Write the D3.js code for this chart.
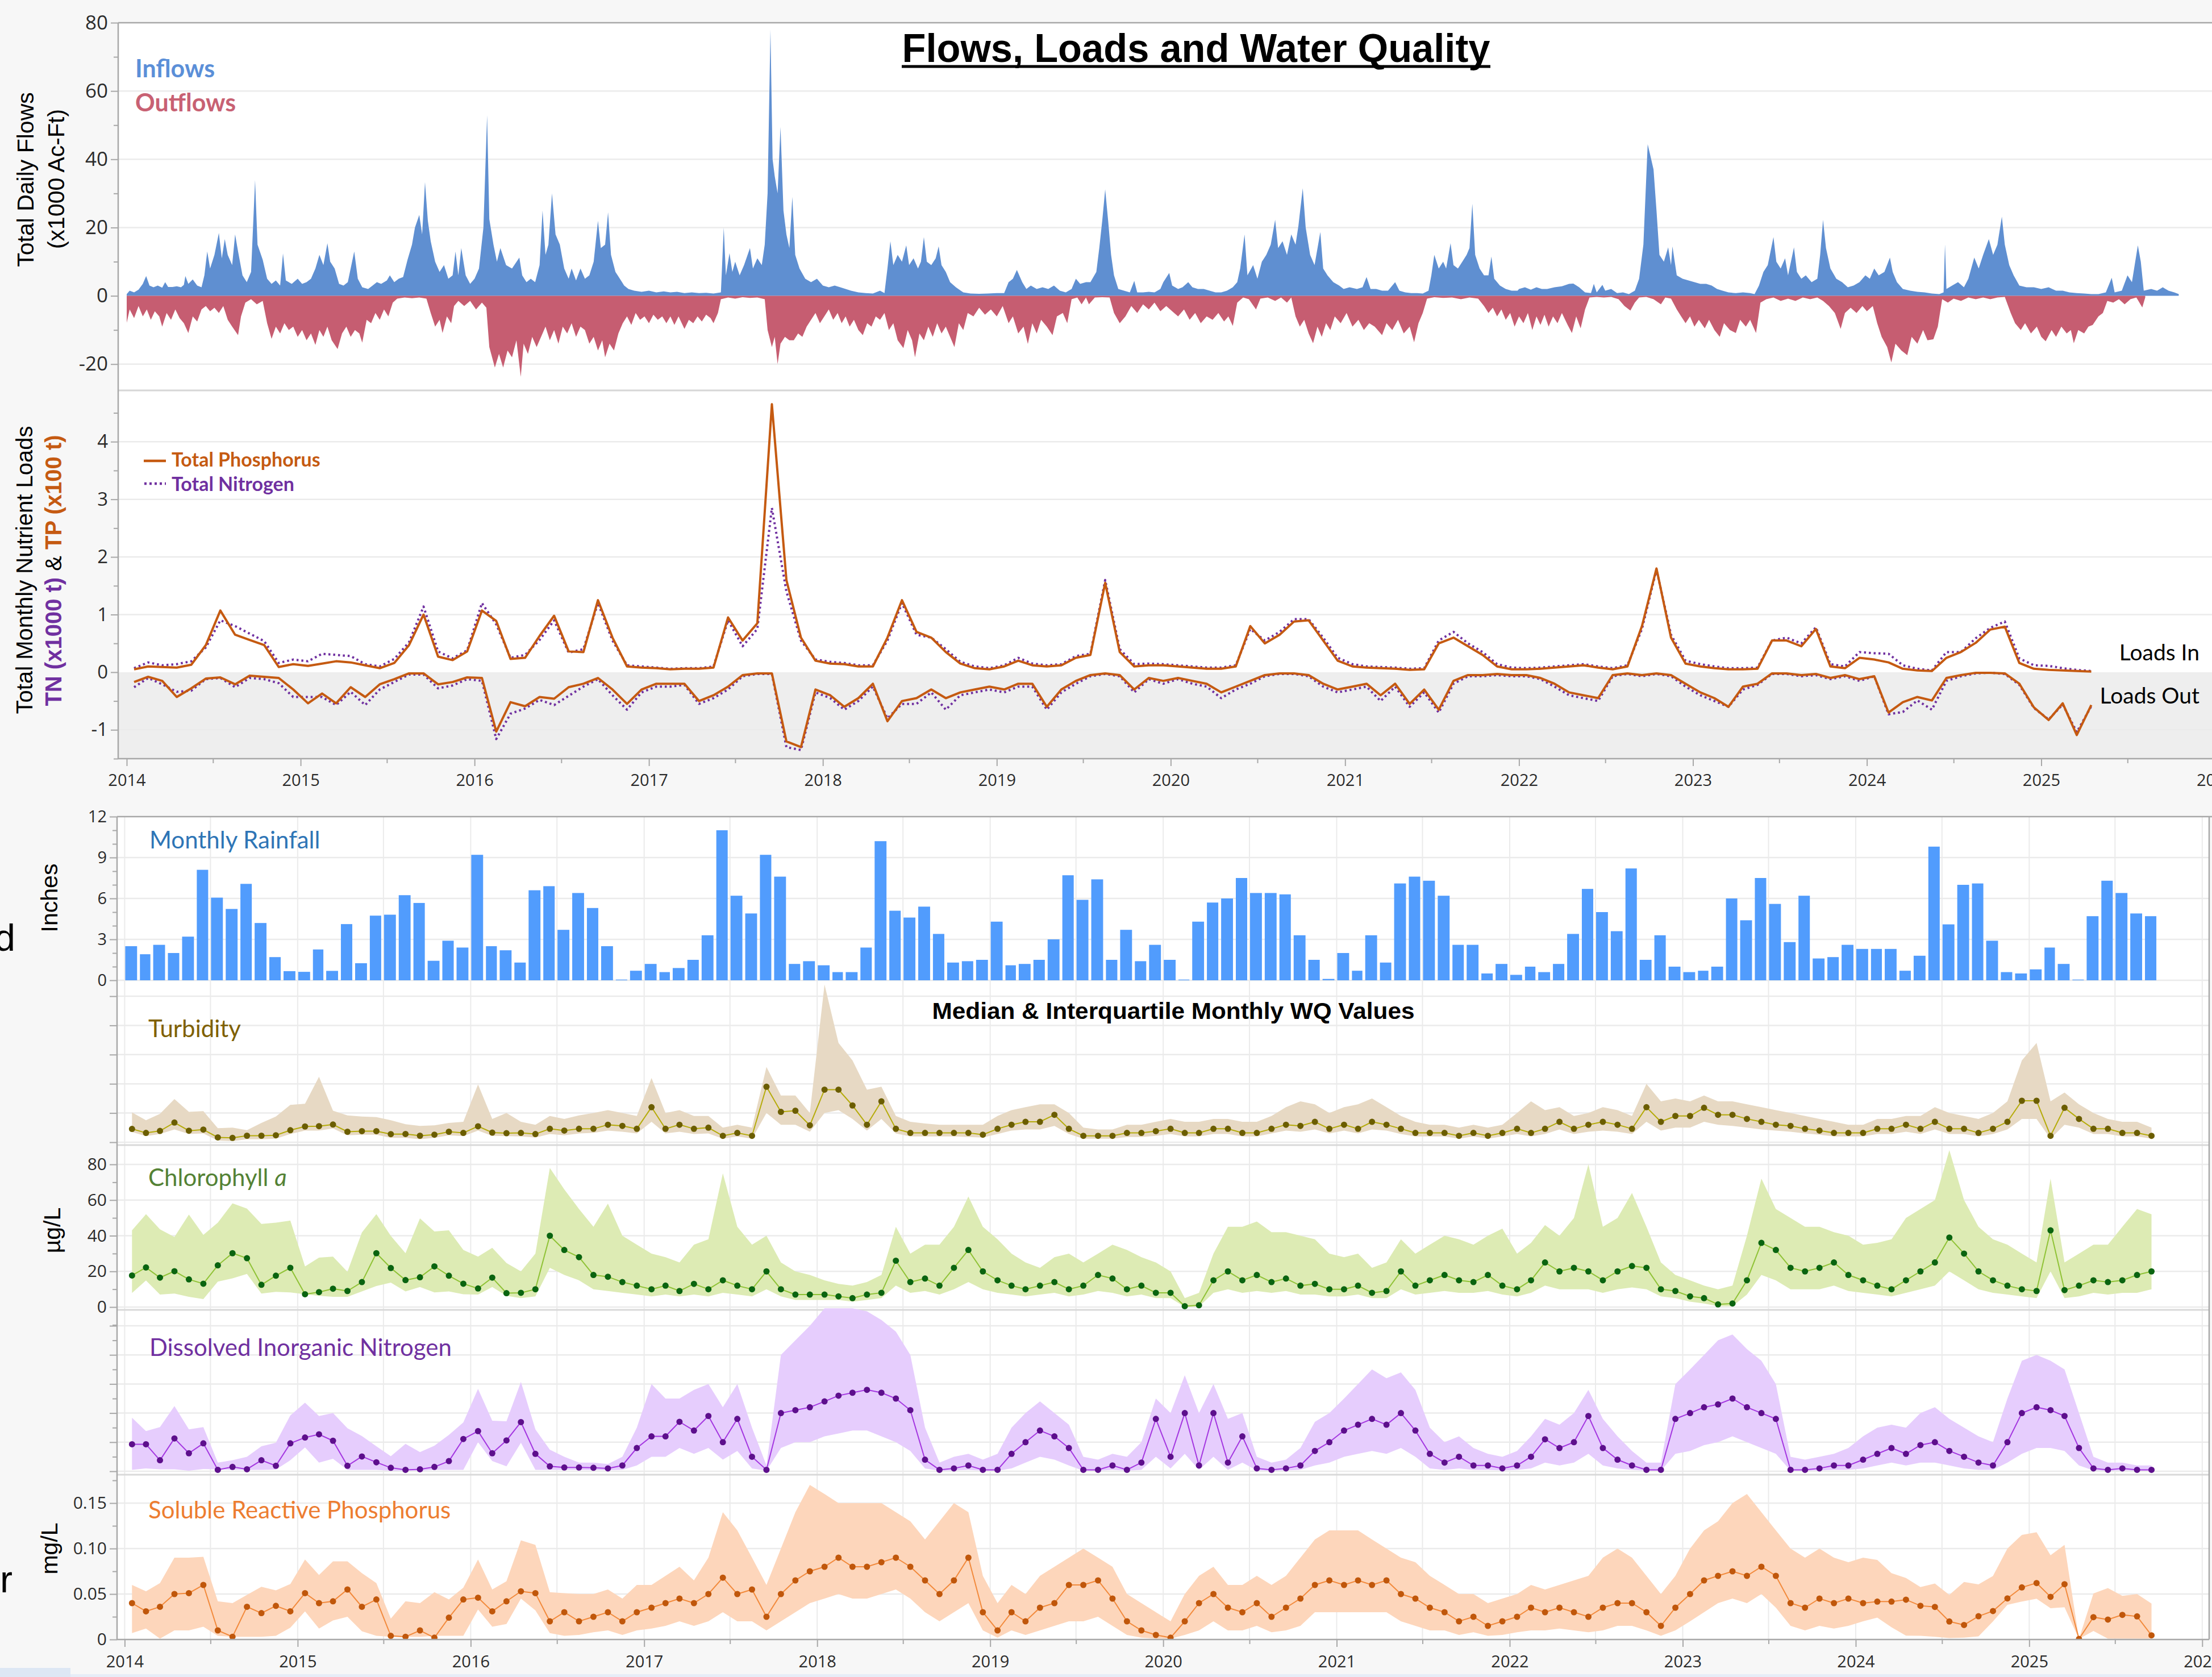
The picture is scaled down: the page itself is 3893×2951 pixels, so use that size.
<!DOCTYPE html>
<html>
<head>
<meta charset="utf-8">
<script src="https://cdn.jsdelivr.net/npm/d3@7"></script>
<style>
  body { margin: 0; background: #f7f7f7; }
  svg { display: block; }
</style>
</head>
<body>
<svg id="chart" width="3893" height="2951"></svg>
<script>
// ---------- Daily flows, digitised as [months since Jan 2014, thousand acre-feet] ----------
const inflows = [
[0.0,0.5],[0.2,1.5],[0.5,1.0],[0.8,1.8],[1.1,3.5],[1.35,5.8],[1.6,3.0],[1.9,2.5],[2.2,3.0],[2.5,2.4],[2.7,4.0],[2.9,2.6],[3.2,2.6],[3.5,2.8],[3.8,2.5],[4.0,3.2],[4.1,5.8],[4.3,3.5],[4.6,4.8],[4.9,3.0],[5.2,2.5],[5.4,6.0],[5.6,13.0],[5.8,8.0],[6.1,12.0],[6.4,18.4],[6.6,11.0],[6.8,16.6],[7.0,12.0],[7.3,9.0],[7.5,18.0],[7.7,13.0],[8.0,6.0],[8.3,4.0],[8.6,7.0],[8.88,33.9],[9.05,15.0],[9.4,10.6],[9.7,5.0],[10.0,3.5],[10.3,4.5],[10.6,3.0],[10.8,12.4],[11.0,4.5],[11.4,3.5],[11.8,5.0],
[12.1,3.5],[12.4,4.0],[12.7,5.0],[13.0,8.0],[13.3,12.0],[13.6,9.0],[13.9,15.4],[14.1,10.0],[14.4,8.0],[14.7,3.5],[15.0,3.0],[15.3,4.0],[15.5,8.0],[15.75,13.0],[16.0,5.0],[16.3,2.5],[16.7,2.0],[17.0,3.0],[17.3,4.0],[17.6,3.5],[18.0,4.5],[18.2,6.0],[18.5,4.0],[18.8,5.0],[19.1,5.5],[19.4,10.6],[19.7,15.0],[19.9,20.0],[20.2,23.7],[20.4,18.0],[20.6,33.3],[20.8,22.0],[21.0,16.0],[21.3,10.0],[21.6,7.0],[21.9,9.0],[22.2,5.0],[22.5,6.0],[22.7,13.0],[22.9,6.0],[23.1,14.0],[23.4,6.0],[23.7,3.5],
[24.0,5.0],[24.3,8.0],[24.6,20.0],[24.85,52.9],[25.0,22.5],[25.3,15.0],[25.55,10.0],[25.8,14.0],[26.2,9.0],[26.6,8.0],[27.1,11.2],[27.3,6.0],[27.6,4.0],[27.9,5.0],[28.2,4.0],[28.5,9.0],[28.7,25.0],[28.9,12.0],[29.1,15.0],[29.35,30.0],[29.6,18.0],[29.9,15.0],[30.2,8.0],[30.5,5.0],[30.7,8.0],[31.0,4.5],[31.3,8.0],[31.6,5.0],[31.9,6.0],[32.2,10.0],[32.5,22.0],[32.7,14.0],[33.0,15.0],[33.2,24.5],[33.4,12.0],[33.7,7.0],[34.0,5.0],[34.3,3.0],[34.6,2.0],[35.0,1.5],[35.5,1.2],
[36.0,1.5],[36.5,1.0],[37.0,1.3],[37.5,1.0],[38.0,1.2],[38.5,0.8],[39.0,1.0],[39.5,0.8],[40.0,0.9],[40.5,0.7],[41.0,1.0],[41.2,20.0],[41.35,6.0],[41.6,12.5],[41.8,7.0],[42.0,10.0],[42.3,6.0],[42.6,9.0],[43.0,14.0],[43.2,8.0],[43.5,11.0],[43.8,9.0],[44.0,15.0],[44.2,30.0],[44.4,78.0],[44.55,40.0],[44.7,35.0],[44.9,30.0],[45.1,49.5],[45.3,25.0],[45.5,18.0],[45.7,14.0],[45.9,29.0],[46.1,12.0],[46.4,8.0],[46.8,5.0],[47.2,4.0],[47.6,5.0],
[48.0,3.0],[48.4,2.5],[48.8,3.0],[49.2,2.5],[49.6,2.0],[50.0,1.5],[50.5,1.0],[51.0,0.8],[51.5,0.7],[52.0,1.5],[52.3,0.8],[52.5,8.0],[52.7,16.0],[52.9,9.0],[53.2,12.0],[53.5,10.0],[53.8,14.8],[54.0,9.0],[54.3,11.0],[54.6,8.0],[54.8,10.0],[55.0,17.2],[55.2,10.0],[55.5,9.0],[55.8,11.0],[56.0,14.5],[56.2,9.0],[56.5,7.0],[56.8,4.0],[57.2,2.5],[57.7,1.0],[58.2,0.7],[58.8,0.6],[59.4,0.7],
[60.0,0.8],[60.5,0.8],[60.8,4.0],[61.1,5.0],[61.4,7.6],[61.8,4.0],[62.1,2.0],[62.4,3.0],[62.8,2.0],[63.2,2.5],[63.6,2.0],[64.0,3.0],[64.4,1.5],[64.8,1.0],[65.2,2.0],[65.5,5.0],[65.8,3.5],[66.2,4.0],[66.5,4.0],[66.9,7.0],[67.1,14.0],[67.3,22.0],[67.5,31.2],[67.7,22.0],[67.9,12.0],[68.1,6.0],[68.4,2.0],[68.8,1.5],[69.2,1.0],[69.5,4.4],[69.7,1.0],[70.1,1.0],[70.5,1.2],[70.9,1.0],[71.3,2.0],[71.5,4.0],[71.9,6.7],
[72.1,3.0],[72.5,2.0],[72.8,2.5],[73.2,4.0],[73.5,2.5],[73.9,2.0],[74.3,2.0],[74.7,1.5],[75.1,1.0],[75.5,1.0],[75.9,1.5],[76.3,2.5],[76.6,4.0],[76.8,8.0],[77.1,18.0],[77.3,6.0],[77.7,9.0],[78.0,5.0],[78.3,10.0],[78.6,12.0],[78.9,15.0],[79.2,22.3],[79.4,14.0],[79.7,16.0],[80.0,12.0],[80.3,18.0],[80.6,15.0],[80.8,20.5],[81.1,31.5],[81.3,20.0],[81.6,12.0],[81.9,9.0],[82.3,18.7],[82.5,8.0],[82.8,6.0],[83.2,4.0],[83.6,3.0],[83.9,2.0],
[84.3,2.5],[84.8,2.0],[85.2,2.5],[85.5,5.5],[85.8,2.0],[86.2,2.0],[86.6,1.5],[87.0,1.5],[87.5,4.0],[87.8,1.5],[88.2,1.0],[88.6,0.8],[89.0,0.8],[89.4,0.7],[89.8,1.5],[90.0,6.0],[90.2,12.0],[90.5,8.0],[90.8,10.0],[91.0,8.0],[91.3,15.4],[91.5,9.0],[91.8,8.0],[92.1,10.0],[92.4,12.0],[92.6,14.0],[92.8,27.0],[93.0,12.0],[93.3,8.0],[93.6,6.0],[93.9,6.0],[94.1,11.5],[94.3,5.0],[94.7,3.0],[95.1,2.0],[95.5,1.5],[95.9,1.5],
[96.0,2.0],[96.4,2.5],[96.8,1.8],[97.2,2.5],[97.6,2.0],[98.0,2.0],[98.5,2.5],[99.0,2.8],[99.5,3.5],[99.8,3.6],[100.2,2.5],[100.6,1.0],[101.0,0.8],[101.2,3.5],[101.4,1.0],[101.8,3.2],[102.0,1.5],[102.4,2.0],[102.8,0.8],[103.2,1.0],[103.6,0.5],[104.0,1.5],[104.3,5.0],[104.6,15.0],[104.9,44.4],[105.05,41.7],[105.3,37.0],[105.5,25.0],[105.7,12.0],[106.0,10.0],[106.3,14.2],[106.5,9.0],[106.6,14.5],[106.9,6.0],[107.3,5.0],[107.7,4.5],
[108.1,4.0],[108.5,3.5],[108.9,3.5],[109.3,3.0],[109.7,2.0],[110.1,1.5],[110.5,1.0],[111.0,0.8],[111.5,1.0],[112.0,0.8],[112.3,0.5],[112.6,3.0],[112.9,7.0],[113.2,9.0],[113.6,17.2],[113.8,10.0],[114.1,8.0],[114.4,11.0],[114.6,6.0],[115.0,14.2],[115.2,7.0],[115.5,5.0],[115.8,6.0],[116.2,4.0],[116.6,5.0],[116.8,12.0],[117.0,22.3],[117.2,14.0],[117.5,8.0],[117.9,5.0],[118.3,4.0],[118.7,2.5],[119.1,3.0],[119.5,4.0],[119.9,6.0],
[120.2,5.0],[120.5,8.0],[120.8,6.0],[121.2,7.0],[121.6,11.2],[121.8,7.0],[122.1,4.0],[122.5,2.0],[123.0,1.5],[123.5,1.2],[124.0,1.0],[124.5,0.7],[125.0,0.5],[125.3,1.0],[125.4,15.1],[125.5,2.0],[125.9,3.0],[126.3,4.0],[126.7,2.5],[127.0,5.0],[127.4,11.2],[127.7,8.0],[128.0,12.0],[128.4,16.6],[128.7,12.0],[129.0,15.0],[129.3,23.2],[129.5,15.0],[129.8,9.0],[130.1,6.0],[130.5,3.0],[131.0,2.5],[131.5,2.5],
[132.0,2.0],[132.5,2.5],[133.0,1.5],[133.5,1.5],[134.0,1.0],[134.5,0.8],[135.0,0.7],[135.5,0.5],[136.0,0.5],[136.5,1.0],[136.9,5.3],[137.1,1.0],[137.6,1.5],[138.0,6.0],[138.3,4.0],[138.7,14.8],[138.9,10.0],[139.1,1.5],[139.6,2.0],[140.0,1.5],[140.4,2.5],[140.8,1.5],[141.2,1.0],[141.5,0.5]
];
const outflows = [
[0.0,-7.9],[0.2,-4.0],[0.5,-6.5],[0.8,-3.0],[1.1,-6.0],[1.4,-4.0],[1.7,-7.0],[2.0,-4.5],[2.3,-6.0],[2.5,-9.0],[2.8,-5.0],[3.1,-7.0],[3.4,-4.0],[3.7,-6.5],[4.0,-8.0],[4.3,-10.9],[4.6,-6.0],[4.9,-7.5],[5.2,-4.0],[5.5,-3.0],[5.8,-4.5],[6.1,-3.5],[6.4,-5.0],[6.7,-3.0],[7.0,-7.0],[7.3,-9.0],[7.7,-11.5],[7.9,-6.0],[8.2,-2.0],[8.6,-1.0],[9.0,-2.5],[9.4,-1.5],[9.7,-8.0],[10.0,-12.6],[10.3,-9.0],[10.6,-11.0],[10.9,-8.0],[11.2,-10.0],[11.5,-9.0],[11.8,-12.0],
[12.1,-10.0],[12.4,-13.0],[12.7,-11.0],[13.0,-14.4],[13.3,-10.0],[13.6,-12.0],[13.9,-9.0],[14.2,-13.0],[14.6,-15.6],[14.9,-11.0],[15.2,-9.0],[15.5,-12.0],[15.8,-10.0],[16.1,-11.0],[16.3,-13.7],[16.6,-7.0],[16.9,-8.0],[17.2,-5.0],[17.5,-7.0],[17.8,-4.0],[18.1,-6.0],[18.4,-2.0],[18.7,-0.8],[19.2,-0.5],[19.7,-0.7],[20.2,-0.5],[20.7,-0.8],[21.0,-5.0],[21.3,-9.0],[21.6,-7.0],[21.8,-10.9],[22.1,-6.0],[22.4,-8.0],[22.6,-3.0],[22.9,-1.5],[23.3,-3.0],[23.7,-1.5],
[24.1,-4.0],[24.5,-2.0],[24.8,-3.5],[25.0,-15.0],[25.4,-21.0],[25.7,-17.0],[26.0,-21.0],[26.3,-16.0],[26.6,-18.0],[26.9,-13.0],[27.2,-23.7],[27.4,-14.0],[27.7,-17.0],[28.0,-12.0],[28.3,-15.0],[28.6,-12.0],[28.9,-9.0],[29.2,-13.0],[29.5,-10.0],[29.8,-14.0],[30.1,-9.0],[30.4,-11.0],[30.7,-8.0],[31.0,-12.0],[31.3,-9.0],[31.6,-10.0],[31.9,-14.0],[32.2,-12.0],[32.5,-16.0],[32.8,-13.0],[33.0,-18.0],[33.3,-14.0],[33.6,-16.0],[33.9,-11.0],[34.2,-8.0],[34.5,-6.0],[34.8,-8.5],[35.1,-5.0],[35.4,-7.0],[35.7,-6.0],
[36.0,-8.0],[36.3,-5.5],[36.6,-7.0],[36.9,-6.0],[37.2,-8.0],[37.5,-6.0],[37.8,-8.5],[38.1,-6.0],[38.5,-9.7],[38.8,-7.0],[39.1,-8.0],[39.4,-6.0],[39.7,-7.5],[40.0,-5.5],[40.3,-6.5],[40.5,-8.0],[40.8,-5.0],[41.0,-1.0],[41.5,-0.5],[42.0,-0.8],[42.5,-0.4],[43.0,-0.6],[43.5,-0.5],[44.0,-1.0],[44.2,-10.0],[44.5,-15.0],[44.7,-12.0],[44.9,-20.0],[45.1,-14.0],[45.4,-12.0],[45.7,-13.0],[46.0,-13.0],[46.3,-11.0],[46.6,-12.0],[46.9,-9.0],[47.2,-7.0],[47.5,-5.0],[47.8,-8.0],
[48.1,-6.0],[48.4,-4.0],[48.7,-7.0],[49.0,-5.0],[49.3,-8.0],[49.6,-6.0],[49.9,-9.0],[50.2,-7.0],[50.5,-10.0],[50.8,-11.5],[51.1,-8.0],[51.4,-9.0],[51.7,-6.0],[52.0,-7.0],[52.3,-5.0],[52.6,-10.0],[52.9,-8.0],[53.2,-13.0],[53.6,-15.3],[53.9,-10.0],[54.2,-13.0],[54.4,-18.0],[54.7,-11.0],[55.0,-13.0],[55.3,-9.0],[55.6,-12.0],[55.9,-8.0],[56.2,-11.0],[56.5,-9.0],[56.8,-12.0],[57.1,-15.0],[57.4,-8.0],[57.7,-10.0],[58.0,-5.0],[58.4,-6.0],[58.8,-3.5],[59.2,-5.5],[59.6,-4.0],
[60.0,-6.0],[60.4,-3.0],[60.8,-8.0],[61.1,-6.0],[61.5,-11.0],[61.9,-9.0],[62.2,-14.1],[62.5,-8.0],[62.8,-11.0],[63.1,-7.0],[63.5,-9.0],[63.9,-11.5],[64.2,-6.0],[64.6,-5.0],[64.9,-8.0],[65.2,-1.0],[65.6,-0.5],[65.9,-2.5],[66.2,-0.5],[66.4,-2.5],[66.8,-0.5],[67.3,-0.4],[67.8,-0.5],[68.1,-5.0],[68.5,-8.0],[68.9,-6.0],[69.3,-3.0],[69.7,-5.0],[70.1,-2.5],[70.5,-4.0],[70.9,-2.0],[71.3,-4.5],[71.7,-3.0],
[72.1,-4.5],[72.5,-6.0],[72.9,-4.0],[73.3,-7.0],[73.7,-5.0],[74.1,-8.0],[74.5,-6.0],[74.9,-7.0],[75.3,-5.0],[75.7,-7.5],[76.0,-6.0],[76.3,-8.8],[76.6,-2.0],[77.0,-0.5],[77.4,-1.0],[77.9,-4.0],[78.2,-0.8],[78.7,-0.5],[79.2,-1.5],[79.6,-0.5],[80.0,-2.0],[80.3,-0.5],[80.6,-6.0],[80.9,-9.0],[81.2,-7.0],[81.5,-11.0],[81.8,-13.9],[82.1,-9.0],[82.4,-12.0],[82.7,-8.0],[83.0,-10.0],[83.3,-6.0],[83.7,-8.0],
[84.1,-5.0],[84.5,-9.0],[84.9,-7.0],[85.3,-10.0],[85.7,-8.0],[86.1,-9.0],[86.6,-11.5],[86.9,-8.0],[87.3,-10.0],[87.7,-7.0],[88.1,-11.0],[88.5,-9.0],[88.8,-13.6],[89.1,-8.0],[89.4,-5.0],[89.7,-0.8],[90.2,-0.4],[90.8,-0.6],[91.4,-0.5],[92.0,-1.0],[92.6,-0.5],[93.2,-0.8],[93.6,-3.0],[93.9,-5.0],[94.2,-3.5],[94.5,-6.0],[94.8,-4.0],[95.1,-7.0],[95.4,-5.0],[95.7,-9.0],[96.0,-6.0],
[96.3,-8.0],[96.6,-5.0],[96.9,-10.0],[97.2,-6.0],[97.5,-8.5],[97.8,-5.5],[98.1,-9.0],[98.4,-6.0],[98.7,-8.0],[99.0,-5.0],[99.4,-8.5],[99.7,-10.9],[100.0,-6.0],[100.3,-9.5],[100.6,-4.0],[100.9,-0.5],[101.4,-0.3],[101.9,-0.5],[102.4,-0.3],[102.9,-1.0],[103.3,-3.0],[103.7,-4.3],[104.0,-2.0],[104.3,-0.5],[104.8,-0.3],[105.3,-1.0],[105.8,-2.5],[106.1,-0.5],[106.5,-0.8],[106.9,-4.0],[107.2,-6.0],[107.5,-8.0],[107.8,-6.0],
[108.1,-9.0],[108.4,-7.0],[108.8,-9.5],[109.1,-7.0],[109.5,-10.0],[109.9,-12.0],[110.2,-8.0],[110.6,-10.0],[111.0,-10.9],[111.3,-7.0],[111.7,-9.0],[112.0,-7.0],[112.4,-10.9],[112.7,-2.0],[113.1,-1.0],[113.6,-0.5],[114.1,-1.5],[114.6,-0.8],[115.1,-1.5],[115.6,-0.5],[116.1,-1.0],[116.6,-0.5],[117.0,-1.5],[117.4,-3.0],[117.8,-5.0],[118.2,-9.7],[118.5,-5.0],[118.9,-3.5],[119.3,-5.0],[119.7,-3.0],
[120.0,-4.5],[120.4,-3.0],[120.7,-8.0],[121.0,-12.0],[121.4,-15.0],[121.7,-19.5],[122.0,-14.0],[122.4,-16.0],[122.8,-17.4],[123.1,-12.0],[123.5,-14.0],[123.9,-10.0],[124.2,-13.0],[124.6,-12.7],[124.9,-9.0],[125.2,-1.0],[125.6,-2.0],[126.0,-0.8],[126.5,-1.5],[127.0,-0.5],[127.5,-1.0],[128.0,-0.5],[128.5,-1.0],[129.0,-0.5],[129.5,-0.3],[129.9,-5.0],[130.2,-8.0],[130.6,-10.0],[130.9,-8.0],[131.3,-11.0],[131.7,-9.0],
[132.0,-12.0],[132.3,-13.3],[132.7,-10.0],[133.0,-12.0],[133.4,-9.0],[133.8,-11.0],[134.1,-10.0],[134.3,-13.9],[134.6,-10.0],[135.0,-11.0],[135.3,-9.0],[135.6,-8.5],[136.0,-6.0],[136.3,-5.0],[136.6,-1.5],[137.0,-2.0],[137.4,-1.0],[137.8,-2.5],[138.2,-1.0],[138.6,-0.5],[139.0,-3.4],[139.2,-0.5]
];

// ---------- Monthly nutrient loads (Jan 2014 onward) ----------
const tpIn = [0.05,0.1,0.09,0.08,0.13,0.47,1.07,0.65,0.56,0.47,0.09,0.14,0.11,0.15,0.19,0.17,0.12,0.07,0.16,0.47,1.0,0.27,0.21,0.36,1.07,0.89,0.23,0.25,0.63,0.98,
0.36,0.35,1.25,0.6,0.1,0.08,0.07,0.05,0.06,0.06,0.08,0.95,0.55,0.85,4.65,1.6,0.6,0.2,0.15,0.14,0.1,0.1,0.6,1.25,0.7,0.6,0.35,0.15,0.07,0.05,
0.1,0.2,0.12,0.1,0.12,0.25,0.3,1.55,0.35,0.1,0.12,0.12,0.1,0.08,0.06,0.06,0.1,0.8,0.5,0.65,0.88,0.9,0.55,0.2,0.1,0.08,0.07,0.06,0.04,0.05,
0.5,0.6,0.45,0.3,0.1,0.05,0.05,0.06,0.08,0.1,0.12,0.08,0.05,0.1,0.8,1.8,0.6,0.15,0.1,0.07,0.05,0.05,0.06,0.55,0.55,0.45,0.75,0.1,0.07,0.25,
0.22,0.17,0.06,0.03,0.02,0.25,0.35,0.51,0.74,0.79,0.16,0.06,0.04,0.03,0.02,0.01];
const tnIn = [0.07,0.17,0.12,0.14,0.19,0.43,0.9,0.8,0.67,0.54,0.16,0.22,0.19,0.32,0.3,0.28,0.14,0.1,0.23,0.52,1.14,0.36,0.24,0.38,1.2,0.83,0.25,0.3,0.56,0.9,
0.34,0.4,1.2,0.55,0.12,0.1,0.08,0.06,0.07,0.07,0.1,0.9,0.45,0.75,2.85,1.4,0.55,0.22,0.18,0.16,0.12,0.12,0.55,1.2,0.65,0.6,0.4,0.18,0.1,0.07,
0.12,0.25,0.15,0.12,0.14,0.28,0.32,1.6,0.4,0.14,0.15,0.14,0.12,0.1,0.08,0.08,0.12,0.75,0.55,0.7,0.92,0.92,0.6,0.25,0.14,0.1,0.09,0.08,0.06,0.07,
0.55,0.7,0.5,0.35,0.14,0.08,0.07,0.08,0.1,0.12,0.14,0.1,0.07,0.12,0.75,1.78,0.65,0.2,0.14,0.1,0.07,0.07,0.08,0.55,0.6,0.5,0.78,0.14,0.1,0.35,
0.33,0.32,0.12,0.06,0.03,0.35,0.35,0.59,0.77,0.88,0.24,0.12,0.11,0.07,0.04,0.02];
const tpOut = [-0.17,-0.08,-0.15,-0.43,-0.28,-0.11,-0.09,-0.21,-0.06,-0.08,-0.1,-0.3,-0.54,-0.37,-0.54,-0.26,-0.43,-0.21,-0.12,-0.02,-0.02,-0.21,-0.17,-0.09,-0.1,-1.03,-0.52,-0.59,-0.43,-0.46,
-0.26,-0.2,-0.1,-0.3,-0.55,-0.3,-0.2,-0.2,-0.2,-0.5,-0.4,-0.25,-0.05,-0.02,-0.02,-1.2,-1.3,-0.3,-0.4,-0.6,-0.45,-0.2,-0.85,-0.5,-0.45,-0.3,-0.45,-0.35,-0.3,-0.25,
-0.3,-0.2,-0.2,-0.6,-0.3,-0.15,-0.05,-0.02,-0.05,-0.3,-0.1,-0.15,-0.1,-0.15,-0.2,-0.35,-0.25,-0.15,-0.05,-0.02,-0.02,-0.05,-0.2,-0.3,-0.25,-0.2,-0.4,-0.2,-0.55,-0.3,
-0.65,-0.15,-0.05,-0.05,-0.03,-0.05,-0.05,-0.1,-0.2,-0.35,-0.4,-0.45,-0.05,-0.02,-0.05,-0.02,-0.05,-0.2,-0.35,-0.45,-0.6,-0.25,-0.2,-0.02,-0.02,-0.05,-0.03,-0.1,-0.05,-0.12,
-0.07,-0.7,-0.52,-0.43,-0.49,-0.1,-0.05,-0.01,-0.01,-0.02,-0.2,-0.61,-0.83,-0.54,-1.09,-0.57];
const tnOut = [-0.26,-0.1,-0.21,-0.34,-0.32,-0.12,-0.1,-0.26,-0.1,-0.12,-0.19,-0.43,-0.43,-0.43,-0.57,-0.34,-0.57,-0.3,-0.17,-0.04,-0.04,-0.28,-0.23,-0.12,-0.15,-1.16,-0.72,-0.63,-0.48,-0.57,
-0.41,-0.25,-0.12,-0.4,-0.65,-0.35,-0.25,-0.25,-0.22,-0.55,-0.45,-0.3,-0.07,-0.03,-0.03,-1.3,-1.35,-0.35,-0.45,-0.65,-0.5,-0.25,-0.8,-0.55,-0.55,-0.35,-0.65,-0.4,-0.35,-0.3,
-0.35,-0.25,-0.25,-0.65,-0.35,-0.2,-0.07,-0.03,-0.07,-0.35,-0.12,-0.2,-0.12,-0.2,-0.25,-0.45,-0.3,-0.2,-0.07,-0.03,-0.03,-0.07,-0.25,-0.35,-0.3,-0.25,-0.5,-0.25,-0.6,-0.35,
-0.7,-0.2,-0.07,-0.07,-0.05,-0.07,-0.07,-0.12,-0.25,-0.4,-0.45,-0.5,-0.07,-0.03,-0.07,-0.03,-0.07,-0.25,-0.4,-0.5,-0.6,-0.3,-0.22,-0.03,-0.03,-0.07,-0.05,-0.12,-0.07,-0.15,
-0.07,-0.73,-0.69,-0.49,-0.65,-0.15,-0.07,-0.02,-0.01,-0.03,-0.22,-0.62,-0.82,-0.56,-1.04,-0.59];

// ---------- Monthly rainfall, inches (Jan 2014 onward) ----------
const rainfall = [2.5,1.91,2.6,2.0,3.2,8.1,6.06,5.23,7.07,4.2,1.7,0.67,
0.62,2.26,0.69,4.12,1.25,4.74,4.81,6.24,5.67,1.43,2.9,2.4,
9.2,2.5,2.2,1.3,6.6,6.9,3.7,6.4,5.3,2.5,0.05,0.7,
1.2,0.6,0.9,1.5,3.3,11.0,6.2,4.9,9.2,7.6,1.2,1.4,
1.1,0.6,0.6,2.4,10.2,5.1,4.6,5.4,3.4,1.3,1.4,1.5,
4.3,1.1,1.2,1.5,3.0,7.7,5.9,7.4,1.5,3.7,1.4,2.6,
1.5,0.05,4.3,5.7,6.0,7.5,6.4,6.4,6.3,3.3,1.5,0.1,
2.0,0.7,3.3,1.3,7.1,7.6,7.3,6.2,2.6,2.6,0.5,1.2,
0.4,1.0,0.6,1.2,3.4,6.7,5.0,3.6,8.2,1.5,3.3,1.0,
0.6,0.7,1.0,6.0,4.4,7.5,5.6,2.8,6.2,1.6,1.7,2.6,
2.3,2.3,2.3,0.7,1.8,9.8,4.1,7.0,7.1,2.9,0.6,0.5,
0.8,2.4,1.2,0.05,4.7,7.3,6.4,4.9,4.7];

// ---------- Monthly water-quality statistics (median, 25th, 75th percentile), Jan 2014 onward ----------
const turbMed = [2.28,1.6,1.94,3.37,1.98,2.17,0.83,0.75,1.12,1.12,1.2,2.06,2.7,2.75,3.03,1.8,1.9,1.9,1.39,1.42,1.12,1.3,1.8,1.6,2.73,1.65,1.55,
1.6,1.4,2.3,2.0,2.3,2.3,3.0,2.8,2.3,
6.0,2.3,3.0,2.3,2.5,1.1,1.6,1.1,9.5,5.2,5.4,2.9,
9.0,9.0,6.3,3.0,7.0,2.3,1.6,1.6,1.6,1.6,1.6,1.3,
2.3,3.0,3.5,3.5,4.7,2.3,1.1,1.1,1.1,1.6,1.6,1.9,
2.3,1.6,1.6,2.3,2.3,1.6,1.6,2.3,3.0,2.8,3.5,2.3,
3.0,2.3,3.5,3.0,2.3,1.6,1.6,1.6,1.1,1.6,1.1,1.6,
2.3,1.6,2.3,3.5,2.3,3.0,3.5,3.0,2.3,6.0,3.5,4.5,
4.5,5.9,4.7,4.7,4.0,3.5,3.0,2.8,2.3,2.0,1.6,1.6,
1.6,2.3,2.3,3.0,2.3,3.5,2.3,2.3,1.6,2.3,3.5,7.1,
7.1,1.1,5.9,4.0,2.3,2.3,1.6,1.6,1.1];
const turbQ1 = [1.76,1.05,1.42,2.2,1.42,1.5,0.3,0.2,0.5,0.5,0.6,1.42,2.0,2.0,2.37,1.2,1.3,1.3,0.75,0.75,0.5,0.75,1.2,1.05,2.0,1.1,1.05,
1.0,0.8,1.4,1.2,1.5,1.6,2.0,1.8,1.5,
3.5,1.5,1.8,1.4,1.5,0.6,1.0,0.6,5.0,3.0,3.0,1.8,
5.0,5.5,4.0,2.0,4.0,1.5,1.0,1.0,1.0,1.0,0.9,0.8,
1.4,2.0,2.2,2.2,2.8,1.4,0.6,0.6,0.6,0.9,0.9,1.1,
1.4,1.0,1.0,1.4,1.4,1.0,1.0,1.5,2.0,1.8,2.2,1.5,
2.0,1.5,2.2,2.0,1.4,1.0,1.0,1.0,0.6,1.0,0.6,1.0,
1.4,1.0,1.4,2.2,1.4,1.8,2.0,1.8,1.4,3.5,2.0,2.5,
2.5,3.5,3.0,2.8,2.5,2.2,2.0,1.8,1.5,1.3,1.0,1.0,
1.0,1.4,1.4,1.8,1.4,2.2,1.4,1.4,1.0,1.4,2.2,4.0,
4.0,0.6,3.0,2.5,1.4,1.4,1.0,1.0,0.6];
const turbQ3 = [5.1,3.76,4.86,7.4,5.2,5.33,2.4,2.5,2.06,3.3,4.4,6.4,6.6,11.2,5.4,4.6,4.4,4.3,3.76,3.1,2.8,2.9,3.3,3.5,9.9,4.0,5.0,
3.5,3.0,4.5,4.0,4.6,5.0,5.5,5.0,4.5,
11.0,5.0,5.5,4.5,4.5,2.5,3.0,2.5,12.9,8.0,8.0,5.0,
27.0,17.0,14.0,9.0,9.5,4.5,3.5,3.2,3.0,3.0,3.0,3.0,
4.5,5.5,6.0,6.5,6.5,5.0,2.5,2.2,2.2,3.0,3.0,3.5,
4.0,3.5,3.5,4.0,4.0,3.5,3.5,4.5,6.0,7.0,6.5,5.0,
6.0,6.5,7.5,6.0,4.5,3.5,3.0,3.0,2.5,3.0,2.5,3.0,
5.0,7.0,5.5,6.0,4.5,5.0,6.0,5.5,4.5,10.0,7.0,7.5,
7.0,8.0,7.0,7.0,6.5,6.0,5.5,5.0,4.5,4.0,3.5,3.0,
3.0,4.0,4.0,4.5,4.5,6.0,5.0,4.5,4.0,5.0,7.0,14.0,
17.0,7.0,8.5,6.5,5.0,4.0,3.5,3.5,2.5];

const chlMed = [17.7,22.2,16.5,20.1,15.5,13.1,23.4,30.2,27.4,12.5,17.6,22.0,7.2,8.4,10.3,9.0,14.0,30.2,21.9,15.1,16.7,22.8,17.6,13.1,10.4,16.5,7.8,
8,10,40,32,28,18,17,14,12,
10,12,9,13,10,15,12,10,20,10,7,7,
7,6,5,7,8,26,14,16,12,22,32,20,
15,12,10,12,14,10,12,18,16,10,12,8,
8,0.5,1.0,15,20,15,18,14,16,12,13,10,
10,12,8,9,20,12,15,18,15,14,18,12,
10,15,25,20,22,20,15,20,23,22,10,9,
6,5,1.5,2,15,36,32,22,20,22,25,18,
15,12,10,15,20,25,39,30,20,15,12,10,
9,43,9.5,12,15,14,15,18,20];
const chlQ1 = [7.9,14.9,7.0,7.6,5.7,4.5,14.3,16.1,18.6,7.6,8.5,8.2,7.2,6.3,5.7,5.7,8.8,11.8,13.7,8.8,11.2,8.2,8.8,7.2,7.0,11.2,6.3,
5,6,22,18,15,10,9,8,7,
6,7,6,7,6,8,7,6,10,6,4,4,
4,4,3,4,5,12,8,9,7,10,14,10,
8,7,6,7,8,6,7,9,8,6,7,5,
5,0.1,0.2,8,10,8,9,8,9,7,7,6,
6,7,5,5,10,7,8,9,8,8,9,7,
6,8,12,10,10,10,8,10,11,10,6,5,
3,2,0.5,0.5,7,18,15,10,10,10,12,9,
8,7,6,8,10,12,20,15,10,8,7,6,
5,20,5,6,8,7,8,8,10];
const chlQ3 = [43.0,52.1,43.6,39.3,51.9,40.5,47.3,58.2,55.2,46.6,47.3,48.5,22.8,27.7,28.3,19.8,41.8,52.1,39.9,30.2,49.7,42.4,43.0,32.0,28.3,33.2,24.7,
20,30,78,66,55,45,58,40,35,
30,28,25,35,38,75,45,35,40,25,20,18,
15,13,12,14,18,45,30,35,35,45,62,45,
38,30,25,22,28,30,25,30,35,32,28,25,
20,5,8,30,45,45,48,42,42,40,38,30,
28,30,22,25,38,30,35,40,38,35,40,44,
30,36,46,40,50,80,45,50,64,45,25,18,
15,12,10,12,40,72,55,50,45,45,42,40,
35,36,38,50,55,60,88,60,45,38,35,30,
25,72,25,30,35,35,45,55,52];

const dinMed = [0.093,0.093,0.038,0.113,0.062,0.096,0.005,0.015,0.007,0.038,0.019,0.096,0.116,0.127,0.105,0.019,0.051,0.031,0.012,0.005,0.007,0.015,0.035,0.111,0.138,0.062,0.106,0.169,0.06,0.017,0.013,
0.013,0.012,0.01,0.02,0.08,
0.12,0.12,0.17,0.14,0.19,0.1,0.18,0.05,0.005,0.2,0.21,0.22,
0.24,0.26,0.27,0.28,0.27,0.25,0.21,0.04,0.005,0.01,0.02,0.005,
0.005,0.06,0.1,0.14,0.12,0.08,0.005,0.005,0.02,0.005,0.03,0.18,
0.05,0.2,0.02,0.2,0.03,0.12,0.01,0.005,0.01,0.02,0.07,0.1,
0.14,0.16,0.18,0.16,0.2,0.14,0.06,0.03,0.05,0.02,0.02,0.01,
0.02,0.05,0.11,0.08,0.1,0.19,0.08,0.04,0.02,0.005,0.005,0.18,
0.2,0.22,0.23,0.25,0.22,0.2,0.18,0.005,0.005,0.01,0.02,0.02,
0.04,0.06,0.08,0.06,0.09,0.1,0.07,0.05,0.03,0.02,0.1,0.2,
0.22,0.21,0.19,0.08,0.01,0.005,0.01,0.005,0.005];
const dinQ1 = [0.005,0.01,0.007,0.007,0.002,0.008,0.007,0.005,0.005,0.005,0.006,0.038,0.082,0.03,0.043,0.005,0.005,0.005,0.002,0.002,0.002,0.005,0.005,0.005,0.1,0.035,0.017,0.098,0.005,0.005,0.005,
0.005,0.004,0.004,0.005,0.02,
0.05,0.05,0.08,0.06,0.08,0.04,0.07,0.01,0.002,0.08,0.1,0.1,
0.12,0.13,0.14,0.14,0.12,0.1,0.07,0.01,0.002,0.003,0.005,0.002,
0.002,0.01,0.03,0.05,0.04,0.02,0.002,0.002,0.005,0.002,0.005,0.05,
0.01,0.06,0.005,0.05,0.005,0.03,0.003,0.002,0.003,0.005,0.02,0.03,
0.05,0.06,0.07,0.06,0.08,0.05,0.01,0.005,0.01,0.005,0.005,0.003,
0.005,0.01,0.03,0.02,0.03,0.06,0.02,0.01,0.005,0.002,0.002,0.06,
0.07,0.09,0.1,0.12,0.1,0.08,0.06,0.002,0.002,0.003,0.005,0.005,
0.01,0.02,0.03,0.02,0.03,0.03,0.02,0.01,0.005,0.005,0.03,0.06,
0.08,0.08,0.07,0.02,0.003,0.002,0.003,0.002,0.002];
const dinQ3 = [0.184,0.138,0.152,0.224,0.144,0.152,0.03,0.038,0.05,0.086,0.098,0.192,0.236,0.19,0.2,0.148,0.121,0.086,0.052,0.094,0.066,0.088,0.125,0.168,0.283,0.174,0.172,0.307,0.144,0.074,0.05,
0.03,0.03,0.025,0.05,0.15,
0.3,0.25,0.25,0.28,0.3,0.22,0.3,0.15,0.02,0.4,0.45,0.5,
0.56,0.56,0.56,0.55,0.52,0.48,0.4,0.15,0.03,0.05,0.06,0.04,
0.06,0.15,0.2,0.24,0.2,0.16,0.05,0.04,0.06,0.05,0.1,0.25,
0.2,0.33,0.2,0.3,0.18,0.2,0.05,0.03,0.04,0.08,0.17,0.2,
0.25,0.3,0.35,0.32,0.34,0.28,0.15,0.1,0.12,0.08,0.06,0.05,
0.07,0.12,0.18,0.16,0.2,0.28,0.18,0.12,0.07,0.03,0.03,0.3,
0.35,0.4,0.45,0.47,0.42,0.38,0.3,0.05,0.04,0.05,0.06,0.08,
0.12,0.15,0.16,0.15,0.2,0.22,0.18,0.15,0.12,0.1,0.25,0.38,
0.4,0.38,0.35,0.2,0.05,0.03,0.03,0.02,0.02];

const srpMed = [0.040,0.031,0.036,0.050,0.051,0.060,0.010,0.003,0.036,0.029,0.037,0.031,0.051,0.040,0.042,0.055,0.036,0.044,0.004,0.003,0.010,0.002,0.024,0.044,0.046,0.031,0.042,0.053,0.051,0.020,0.030,
0.02,0.025,0.03,0.02,0.03,
0.035,0.04,0.045,0.04,0.05,0.068,0.05,0.055,0.025,0.05,0.065,0.075,
0.08,0.09,0.08,0.08,0.085,0.09,0.08,0.065,0.05,0.065,0.09,0.03,
0.01,0.03,0.02,0.035,0.04,0.06,0.06,0.065,0.045,0.02,0.01,0.005,
0.002,0.02,0.04,0.05,0.035,0.03,0.04,0.025,0.035,0.045,0.06,0.065,
0.06,0.065,0.06,0.065,0.05,0.045,0.035,0.03,0.02,0.025,0.015,0.02,
0.025,0.035,0.03,0.035,0.03,0.025,0.035,0.04,0.04,0.03,0.015,0.035,
0.05,0.065,0.07,0.075,0.07,0.08,0.07,0.04,0.035,0.045,0.04,0.045,
0.04,0.0417,0.0417,0.0438,0.0371,0.0358,0.0198,0.016,0.0256,0.0313,0.0452,0.0573,
0.0621,0.0469,0.0608,0.0006,0.0246,0.0219,0.0271,0.0254,0.0046];
const srpQ1 = [0.007,0.012,0.001,0.010,0.010,0.014,0.004,0.003,0.003,0.003,0.004,0.013,0.031,0.012,0.021,0.025,0.009,0.004,0.003,0.003,0.003,0.004,0.004,0.004,0.033,0.014,0.017,0.045,0.032,0.007,0.004,
0.005,0.008,0.01,0.005,0.01,
0.012,0.015,0.02,0.015,0.02,0.03,0.02,0.02,0.01,0.02,0.03,0.04,
0.045,0.05,0.045,0.045,0.05,0.055,0.045,0.03,0.02,0.03,0.04,0.01,
0.002,0.01,0.005,0.01,0.015,0.02,0.02,0.025,0.015,0.005,0.002,0.001,
0.001,0.005,0.01,0.02,0.01,0.01,0.015,0.008,0.01,0.015,0.03,0.03,
0.03,0.03,0.03,0.03,0.02,0.015,0.01,0.01,0.005,0.008,0.004,0.005,
0.008,0.01,0.01,0.012,0.01,0.008,0.01,0.015,0.015,0.01,0.004,0.01,
0.02,0.03,0.04,0.045,0.04,0.05,0.035,0.015,0.01,0.015,0.012,0.015,
0.02,0.024,0.0135,0.0042,0.004,0.003,0.0015,0.002,0.0035,0.0198,0.0381,0.0417,
0.0448,0.0344,0.0354,0.0006,0.0094,0.001,0.001,0.001,0.001];
const srpQ3 = [0.060,0.053,0.062,0.090,0.090,0.091,0.042,0.040,0.049,0.058,0.054,0.061,0.088,0.071,0.086,0.086,0.073,0.062,0.023,0.042,0.040,0.052,0.044,0.057,0.088,0.055,0.064,0.109,0.104,0.052,0.051,
0.05,0.05,0.055,0.045,0.06,
0.06,0.07,0.08,0.065,0.09,0.14,0.12,0.09,0.06,0.1,0.14,0.17,
0.16,0.15,0.15,0.15,0.15,0.14,0.13,0.11,0.13,0.15,0.14,0.07,
0.04,0.06,0.05,0.07,0.08,0.09,0.1,0.09,0.08,0.05,0.04,0.03,
0.02,0.05,0.07,0.08,0.06,0.06,0.07,0.06,0.07,0.09,0.11,0.12,
0.12,0.12,0.11,0.1,0.09,0.085,0.07,0.06,0.05,0.05,0.04,0.045,
0.05,0.06,0.055,0.06,0.065,0.07,0.09,0.1,0.09,0.07,0.05,0.07,
0.1,0.12,0.13,0.15,0.16,0.14,0.12,0.1,0.09,0.1,0.09,0.085,
0.09,0.0875,0.073,0.0677,0.0577,0.0615,0.049,0.0633,0.0606,0.0698,0.1,0.115,
0.118,0.0927,0.104,0.0006,0.0506,0.0565,0.0479,0.05,0.0396];

const yearTicks = d3.range(2014, 2027);

// ---------- helpers ----------
const svg = d3.select('#chart');
const FONT_CAL = "Lato, 'Open Sans', sans-serif";
const FONT_ARIAL = "'Liberation Sans', Arial, sans-serif";
const FONT_TICK = "'Open Sans', Lato, sans-serif";
const AXIS_GREY = '#a8a8a8';
const GRID = '#ebebeb';

function monthDate(m) {
  const i = Math.floor(m), f = m - i;
  const a = new Date(2014, i, 1), b = new Date(2014, i + 1, 1);
  return new Date(+a + f * (b - a));
}
const yearDate = y => new Date(y, 0, 1);
const halfDates = d3.range(2014, 2026).map(y => new Date(y, 6, 1));
const plain = d => String(d);

// ---------- scales ----------
const xTop = d3.scaleTime().domain([yearDate(2014), yearDate(2026)]).range([223, 3898.6]);
const xBot = d3.scaleTime().domain([yearDate(2014), yearDate(2026)]).range([219.4, 3875.8]);
const yFlow = d3.scaleLinear().domain([-27.7, 80]).range([687, 40]);
const yLoad = d3.scaleLinear().domain([-1.5, 4.88]).range([1335, 688]);
const yRain = d3.scaleLinear().domain([0, 12]).range([1725, 1437]);
const yTurb = d3.scaleLinear().domain([0, 25]).range([2010, 1753]);
const yChl = d3.scaleLinear().domain([0, 80]).range([2300, 2049]);
const yDin = d3.scaleLinear().domain([0, 0.5]).range([2589, 2333]);
const ySrp = d3.scaleLinear().domain([0, 0.15]).range([2885, 2645]);

// ---------- backgrounds ----------
svg.append('rect').attr('width', 3893).attr('height', 2951).attr('fill', '#f7f7f7');
svg.append('rect').attr('x', 0).attr('y', 2935).attr('width', 124).attr('height', 16).attr('fill', '#dde7f4');
svg.append('rect').attr('x', 124).attr('y', 2946).attr('width', 3769).attr('height', 5).attr('fill', '#e6edf7');
svg.append('rect').attr('x', 208).attr('y', 40).attr('width', 3685).attr('height', 647).attr('fill', '#fff');
svg.append('rect').attr('x', 208).attr('y', 688).attr('width', 3685).attr('height', 647).attr('fill', '#fff');
svg.append('rect').attr('x', 208).attr('y', yLoad(0)).attr('width', 3685).attr('height', 1335 - yLoad(0)).attr('fill', '#eeeeee');
svg.append('rect').attr('x', 206).attr('y', 1437).attr('width', 3682).attr('height', 1448).attr('fill', '#fff');

const defs = svg.append('defs');
function clip(id, x, y, w, h) {
  defs.append('clipPath').attr('id', id).append('rect').attr('x', x).attr('y', y).attr('width', w).attr('height', h);
  return `url(#${id})`;
}
const clipFlow = clip('cFlow', 208, 40, 3685, 647);
const clipLoad = clip('cLoad', 208, 688, 3685, 647);
const clipBottom = clip('cBot', 206, 1437, 3682, 1448);

// ---------- gridlines ----------
function hGrid(scale, values, x0, x1) {
  svg.append('g').selectAll('line').data(values).join('line')
    .attr('x1', x0).attr('x2', x1).attr('y1', d => scale(d)).attr('y2', d => scale(d))
    .attr('stroke', GRID).attr('stroke-width', 2.5);
}
hGrid(yFlow, [-20, 20, 40, 60], 208, 3893);
hGrid(yLoad, [-1, 1, 2, 3, 4], 208, 3893);
svg.append('g').selectAll('line').data(yearTicks.map(yearDate).concat(halfDates)).join('line')
  .attr('x1', d => xBot(d)).attr('x2', d => xBot(d)).attr('y1', 1437).attr('y2', 2885)
  .attr('stroke', GRID).attr('stroke-width', 2);
hGrid(yRain, [0, 3, 6, 9], 206, 3888);
hGrid(yTurb, [0, 5, 10, 15, 20, 25], 206, 3888);
hGrid(yChl, [0, 20, 40, 60, 80], 206, 3888);
hGrid(yDin, [0, 0.1, 0.2, 0.3, 0.4, 0.5], 206, 3888);
hGrid(ySrp, [0.05, 0.10, 0.15], 206, 3888);

// panel separators
[[208, 3893, 687, '#d6d6d6'], [206, 3888, 2015, '#d9d9d9'], [206, 3888, 2305, '#d9d9d9'], [206, 3888, 2595, '#d9d9d9']]
  .forEach(([a, b, y, c]) => svg.append('line').attr('x1', a).attr('x2', b).attr('y1', y).attr('y2', y).attr('stroke', c).attr('stroke-width', 3));

// ---------- flows ----------
const flowArea = d3.area().x(d => xTop(monthDate(d[0]))).y0(yFlow(0)).y1(d => yFlow(d[1]));
svg.append('path').datum(inflows).attr('d', flowArea).attr('fill', '#5f8fd1').attr('clip-path', clipFlow);
svg.append('path').datum(outflows).attr('d', flowArea).attr('fill', '#c65d71').attr('clip-path', clipFlow);

// ---------- loads ----------
const loadLine = d3.line().x((d, i) => xTop(monthDate(i + 0.5))).y(d => yLoad(d));
const loadSets = [
  [tnIn, '#7030a0', '3.5 5'], [tpIn, '#c55a11', null],
  [tnOut, '#7030a0', '3.5 5'], [tpOut, '#c55a11', null]
];
loadSets.forEach(([data, color, dash]) => {
  svg.append('path').datum(data).attr('d', loadLine).attr('fill', 'none')
    .attr('stroke', color).attr('stroke-width', 4).attr('stroke-linejoin', 'round')
    .attr('stroke-dasharray', dash).attr('clip-path', clipLoad);
});

// ---------- rainfall ----------
svg.append('g').selectAll('rect').data(rainfall).join('rect')
  .attr('x', (d, i) => xBot(monthDate(i)) + 1)
  .attr('width', (d, i) => xBot(monthDate(i + 1)) - xBot(monthDate(i)) - 5)
  .attr('y', d => yRain(d)).attr('height', d => yRain(0) - yRain(d))
  .attr('fill', '#519cfd');

// ---------- water-quality bands ----------
function wq(med, q1, q3, y, band, line, dot) {
  const xm = (d, i) => xBot(monthDate(i + 0.5));
  const g = svg.append('g').attr('clip-path', clipBottom);
  const area = d3.area().x(xm).y0((d, i) => y(q1[i])).y1((d, i) => y(q3[i]));
  g.append('path').datum(med).attr('d', area).attr('fill', band);
  g.append('path').datum(med).attr('d', d3.line().x(xm).y(d => y(d)))
    .attr('fill', 'none').attr('stroke', line).attr('stroke-width', 2);
  g.append('g').selectAll('circle').data(med).join('circle')
    .attr('cx', xm).attr('cy', d => y(d)).attr('r', 5.5).attr('fill', dot);
}
wq(turbMed, turbQ1, turbQ3, yTurb, '#e7d9c4', '#b5ab0a', '#6b5d00');
wq(chlMed, chlQ1, chlQ3, yChl, '#ddebb4', '#8fc236', '#0a6410');
wq(dinMed, dinQ1, dinQ3, yDin, '#e6cdfd', '#a437e0', '#5d0f8c');
wq(srpMed, srpQ1, srpQ3, ySrp, '#fdd6bb', '#f28a3c', '#c0570b');

// ---------- axes ----------
function styleAxis(g, fontSize) {
  g.select('.domain').remove();
  g.selectAll('line').attr('stroke', AXIS_GREY).attr('stroke-width', 2);
  g.selectAll('text').attr('fill', '#2b2b2b').attr('font-family', FONT_TICK).attr('font-size', fontSize);
}
function leftAxis(scale, x, major, minor, fmt, fontSize) {
  const g1 = svg.append('g').attr('transform', `translate(${x},0)`)
    .call(d3.axisLeft(scale).tickValues(major).tickSize(13).tickSizeOuter(0).tickPadding(5).tickFormat(fmt));
  styleAxis(g1, fontSize);
  if (minor) {
    const g2 = svg.append('g').attr('transform', `translate(${x},0)`)
      .call(d3.axisLeft(scale).tickValues(minor).tickSize(8).tickSizeOuter(0).tickFormat(''));
    styleAxis(g2, fontSize);
  }
}
leftAxis(yFlow, 208, [-20, 0, 20, 40, 60, 80], [-10, 10, 30, 50, 70], plain, 35);
leftAxis(yLoad, 208, [-1, 0, 1, 2, 3, 4], [-1.5, -0.5, 0.5, 1.5, 2.5, 3.5, 4.5], plain, 33);
leftAxis(yRain, 206, [0, 3, 6, 9, 12], [1, 2, 4, 5, 7, 8, 10, 11], plain, 29);
leftAxis(yTurb, 206, [0, 5, 10, 15, 20, 25], null, () => '', 29);
leftAxis(yChl, 206, [0, 20, 40, 60, 80], [-10, 10, 30, 50, 70], plain, 30);
leftAxis(yDin, 206, [0, 0.1, 0.2, 0.3, 0.4, 0.5], [0.05, 0.15, 0.25, 0.35, 0.45], () => '', 29);
leftAxis(ySrp, 206, [0, 0.05, 0.10, 0.15], [0.025, 0.075, 0.125, 0.175], d => d === 0 ? '0' : d3.format('.2f')(d), 30);

function bottomAxis(scale, y, pad) {
  const g1 = svg.append('g').attr('transform', `translate(0,${y})`)
    .call(d3.axisBottom(scale).tickValues(yearTicks.map(yearDate)).tickSize(13).tickSizeOuter(0).tickPadding(pad).tickFormat(d3.timeFormat('%Y')));
  styleAxis(g1, 29);
  const g2 = svg.append('g').attr('transform', `translate(0,${y})`)
    .call(d3.axisBottom(scale).tickValues(halfDates).tickSize(8).tickSizeOuter(0).tickFormat(''));
  styleAxis(g2, 29);
}
bottomAxis(xTop, 1335, 14);
bottomAxis(xBot, 2885, 15);

// frame lines
const frame = [
  [208, 40, 3893, 40], [208, 40, 208, 1335], [208, 1335, 3893, 1335],
  [206, 1437, 3893, 1437], [206, 1437, 206, 2885], [206, 2885, 3888, 2885], [3888, 1437, 3888, 2885]
];
frame.forEach(([a, b, c, d]) => svg.append('line').attr('x1', a).attr('y1', b).attr('x2', c).attr('y2', d)
  .attr('stroke', AXIS_GREY).attr('stroke-width', 2.5));

// ---------- text ----------
function txt(x, y, s, opts = {}) {
  const t = svg.append('text').attr('x', x).attr('y', y).text(s)
    .attr('font-family', opts.family || FONT_CAL).attr('font-size', opts.size || 40)
    .attr('fill', opts.fill || '#000').attr('font-weight', opts.weight || 'normal')
    .attr('text-anchor', opts.anchor || 'start');
  if (opts.len) t.attr('textLength', opts.len).attr('lengthAdjust', 'spacingAndGlyphs');
  return t;
}
// title
txt(2105, 109, 'Flows, Loads and Water Quality', { family: FONT_ARIAL, size: 70, weight: 'bold', anchor: 'middle', len: 1035 });
svg.append('line').attr('x1', 1587).attr('x2', 2623).attr('y1', 117).attr('y2', 117).attr('stroke', '#000').attr('stroke-width', 5);
txt(2065, 1793, 'Median & Interquartile Monthly WQ Values', { family: FONT_ARIAL, size: 40, weight: 'bold', anchor: 'middle', len: 849 });

// flow legend
txt(238, 136, 'Inflows', { size: 43, weight: 'bold', fill: '#5b8fd8' });
txt(238, 196, 'Outflows', { size: 43, weight: 'bold', fill: '#c86173' });

// load legend
svg.append('line').attr('x1', 253).attr('x2', 292).attr('y1', 811).attr('y2', 811).attr('stroke', '#c55a11').attr('stroke-width', 4.5);
svg.append('line').attr('x1', 254).attr('x2', 292).attr('y1', 851).attr('y2', 851).attr('stroke', '#7030a0').attr('stroke-width', 4.5).attr('stroke-dasharray', '4 5');
txt(302, 821, 'Total Phosphorus', { size: 34, weight: 'bold', fill: '#c55a11' });
txt(302, 864, 'Total Nitrogen', { size: 34, weight: 'bold', fill: '#7030a0' });
txt(3871, 1162, 'Loads In', { size: 39, anchor: 'end' });
txt(3871, 1238, 'Loads Out', { size: 39, anchor: 'end' });

// panel titles
txt(263, 1493, 'Monthly Rainfall', { size: 42, fill: '#2e75b6' });
txt(261, 1825, 'Turbidity', { size: 42, fill: '#7f6000' });
const chlT = txt(261, 2087, 'Chlorophyll ', { size: 42, fill: '#548235' });
chlT.append('tspan').attr('font-style', 'italic').text('a');
txt(263, 2386, 'Dissolved Inorganic Nitrogen', { size: 42, fill: '#7030a0' });
txt(261, 2672, 'Soluble Reactive Phosphorus', { size: 42, fill: '#ed7d31' });

// rotated axis titles
function vtxt(x, y, parts, size) {
  const t = svg.append('text').attr('transform', `translate(${x},${y}) rotate(-90)`)
    .attr('text-anchor', 'middle').attr('font-family', FONT_ARIAL).attr('font-size', size);
  parts.forEach(([s, fill, weight]) => t.append('tspan').text(s).attr('fill', fill).attr('font-weight', weight || 'normal'));
}
vtxt(59, 316, [['Total Daily Flows', '#000']], 41);
vtxt(113, 315, [['(x1000 Ac-Ft)', '#000']], 41);
vtxt(57, 1003, [['Total Monthly Nutrient Loads', '#000']], 40);
vtxt(108, 1004, [['TN (x1000 t)', '#7030a0', 'bold'], [' & ', '#000'], ['TP (x100 t)', '#c55a11', 'bold']], 40);
vtxt(101, 1580, [['Inches', '#000']], 41);
vtxt(106, 2165, [['µg/L', '#000']], 41);
vtxt(101, 2725, [['mg/L', '#000']], 41);

// fragments of larger labels running off the left edge
txt(27, 1673, 'd', { family: FONT_ARIAL, size: 66, anchor: 'end' });
txt(22, 2802, 'r', { family: FONT_ARIAL, size: 66, anchor: 'end' });
</script>
</body>
</html>
